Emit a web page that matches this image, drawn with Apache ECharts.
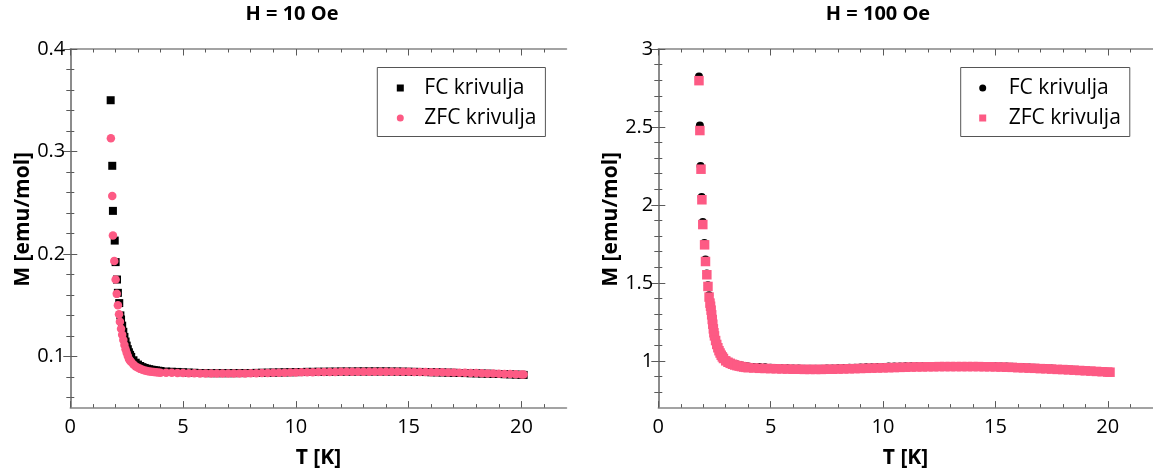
<!DOCTYPE html>
<html><head><meta charset="utf-8">
<script src="https://cdn.jsdelivr.net/npm/echarts@6/dist/echarts.min.js"></script>
<style>html,body{margin:0;padding:0;background:#fff}#c{width:1153px;height:474px}</style>
</head><body><div id="c"></div>
<script>
// ---------- tick labels ----------
const xMajorTicks = [0, 5, 10, 15, 20];
const xMinorTicks = [1,2,3,4,6,7,8,9,11,12,13,14,16,17,18,19,21];
const y10MajorTicks = [0.1, 0.2, 0.3, 0.4];
const y10MinorTicks = [0.06,0.08,0.12,0.14,0.16,0.18,0.22,0.24,0.26,0.28,0.32,0.34,0.36,0.38];
const y100MajorTicks = [1, 1.5, 2, 2.5, 3];
const y100MinorTicks = [0.8,0.9,1.1,1.2,1.3,1.4,1.6,1.7,1.8,1.9,2.1,2.2,2.3,2.4,2.6,2.7,2.8,2.9];
const titles = ['H = 10 Oe', 'H = 100 Oe'];
const seriesNames = ['FC krivulja', 'ZFC krivulja'];

// ---------- data: [T (K), M (emu/mol)] ----------
const fc10 = [
[1.79,0.350],[1.86,0.286],[1.89,0.242],[1.97,0.213],[2.01,0.192],[2.07,0.175],[2.11,0.162],[2.17,0.152],[2.22,0.140],
[2.25,0.136],[2.30,0.130],[2.35,0.124],[2.40,0.119],[2.45,0.1145],[2.50,0.1105],[2.55,0.1070],[2.60,0.1040],[2.65,0.1015],[2.70,0.0995],
[2.80,0.0962],[2.90,0.0938],[3.00,0.0920],[3.10,0.0906],[3.20,0.0895],[3.30,0.0887],[3.40,0.0880],[3.50,0.0875],[3.60,0.0870],[3.70,0.0866],
[3.80,0.0863],[3.90,0.0860],[4.00,0.0857],
[4.25,0.0852],[4.5,0.0850],[4.75,0.0848],[5,0.0845],[5.25,0.0842],[5.5,0.0840],[5.75,0.0838],[6,0.0837],[6.25,0.0836],[6.5,0.0836],
[6.75,0.0836],[7,0.0836],[7.25,0.0836],[7.5,0.0837],[7.75,0.0837],[8,0.0838],[8.25,0.0839],[8.5,0.0840],[8.75,0.0841],[9,0.0842],
[9.25,0.0843],[9.5,0.0844],[9.75,0.0845],[10,0.0846],[10.25,0.0847],[10.5,0.0849],[10.75,0.0849],[11,0.0850],[11.25,0.0850],[11.5,0.0851],
[11.75,0.0851],[12,0.0852],[12.25,0.0852],[12.5,0.0852],[12.75,0.0853],[13,0.0853],[13.25,0.0853],[13.5,0.0853],[13.75,0.0853],[14,0.0853],
[14.25,0.0852],[14.5,0.0852],[14.75,0.0851],[15,0.0850],[15.25,0.0849],[15.5,0.0848],[15.75,0.0847],[16,0.0845],[16.25,0.0844],[16.5,0.0843],
[16.75,0.0841],[17,0.0840],[17.25,0.0838],[17.5,0.0837],[17.75,0.0835],[18,0.0834],[18.25,0.0832],[18.5,0.0831],[18.75,0.0829],[19,0.0828],
[19.25,0.0826],[19.5,0.0824],[19.75,0.0822],[20,0.0820],[20.1,0.0819]
];
const zfc10 = [
[1.80,0.313],[1.86,0.2565],[1.89,0.218],[1.95,0.193],[2.01,0.175],[2.06,0.161],[2.11,0.150],[2.16,0.141],[2.20,0.1337],
[2.25,0.127],[2.30,0.121],[2.35,0.116],[2.40,0.111],[2.45,0.107],[2.50,0.1035],[2.55,0.1003],[2.60,0.0975],[2.65,0.0958],[2.70,0.0945],
[2.80,0.0920],[2.90,0.0902],[3.00,0.0888],[3.10,0.0878],[3.20,0.0870],[3.30,0.0863],[3.40,0.0858],[3.50,0.0853],[3.60,0.0850],[3.70,0.0847],
[3.80,0.0845],[3.90,0.0843],[4.00,0.0841],
[4.25,0.0840],[4.5,0.0839],[4.75,0.0838],[5,0.0837],[5.25,0.0836],[5.5,0.0835],[5.75,0.0834],[6,0.0834],[6.25,0.0833],[6.5,0.0833],
[6.75,0.0833],[7,0.0833],[7.25,0.0833],[7.5,0.0834],[7.75,0.0834],[8,0.0835],[8.25,0.0836],[8.5,0.0837],[8.75,0.0838],[9,0.0839],
[9.25,0.0840],[9.5,0.0841],[9.75,0.0842],[10,0.0843],[10.25,0.0844],[10.5,0.0845],[10.75,0.0846],[11,0.0847],[11.25,0.0847],[11.5,0.0848],
[11.75,0.0848],[12,0.0849],[12.25,0.0849],[12.5,0.0849],[12.75,0.0850],[13,0.0850],[13.25,0.0850],[13.5,0.0850],[13.75,0.0850],[14,0.0850],
[14.25,0.0850],[14.5,0.0850],[14.75,0.0849],[15,0.0849],[15.25,0.0848],[15.5,0.0848],[15.75,0.0847],[16,0.0846],[16.25,0.0845],[16.5,0.0844],
[16.75,0.0843],[17,0.0842],[17.25,0.0841],[17.5,0.0840],[17.75,0.0838],[18,0.0837],[18.25,0.0835],[18.5,0.0834],[18.75,0.0832],[19,0.0831],
[19.25,0.0829],[19.5,0.0827],[19.75,0.0825],[20,0.0823],[20.1,0.0822]
];
const fc100 = [
[1.81,2.823],[1.85,2.509],[1.88,2.250],[1.93,2.050],[1.98,1.890],[2.05,1.755],[2.10,1.650],[2.16,1.560],[2.21,1.485],[2.26,1.420],
[2.30,1.380],[2.325,1.358],[2.35,1.333],[2.375,1.303],[2.40,1.273],[2.425,1.243],[2.45,1.213],[2.475,1.188],[2.50,1.167],[2.55,1.137],
[2.60,1.112],[2.65,1.091],[2.70,1.072],[2.75,1.057],[2.80,1.043],[2.85,1.032],[2.90,1.022],[3.0,1.007],[3.1,0.998],[3.2,0.991],
[3.3,0.985],[3.4,0.980],[3.5,0.976],[3.6,0.973],[3.7,0.970],[3.8,0.967],[3.9,0.965],[4.0,0.963],
[4.25,0.961],[4.5,0.960],[4.75,0.958],[5,0.956],[5.25,0.954],[5.5,0.953],[5.75,0.952],[6,0.951],[6.25,0.950],[6.5,0.949],
[6.75,0.949],[7,0.949],[7.25,0.949],[7.5,0.950],[7.75,0.951],[8,0.952],[8.25,0.954],[8.5,0.955],[8.75,0.956],[9,0.957],
[9.25,0.958],[9.5,0.959],[9.75,0.960],[10,0.961],[10.25,0.963],[10.5,0.963],[10.75,0.964],[11,0.965],[11.25,0.966],[11.5,0.966],
[11.75,0.966],[12,0.967],[12.25,0.967],[12.5,0.967],[12.75,0.967],[13,0.967],[13.25,0.967],[13.5,0.967],[13.75,0.967],[14,0.967],
[14.25,0.967],[14.5,0.966],[14.75,0.966],[15,0.965],[15.25,0.964],[15.5,0.963],[15.75,0.962],[16,0.960],[16.25,0.958],[16.5,0.957],
[16.75,0.955],[17,0.953],[17.25,0.952],[17.5,0.950],[17.75,0.948],[18,0.946],[18.25,0.944],[18.5,0.942],[18.75,0.940],[19,0.938],
[19.25,0.936],[19.5,0.934],[19.75,0.932],[20,0.930],[20.1,0.929]
];
const zfc100 = [
[1.81,2.797],[1.85,2.477],[1.90,2.229],[1.94,2.033],[1.98,1.874],[2.06,1.744],[2.10,1.637],[2.16,1.552],[2.21,1.477],[2.26,1.409],
[2.30,1.370],[2.325,1.350],[2.35,1.325],[2.375,1.295],[2.40,1.265],[2.425,1.235],[2.45,1.205],[2.475,1.180],[2.50,1.160],[2.55,1.130],
[2.60,1.105],[2.65,1.084],[2.70,1.065],[2.75,1.050],[2.80,1.036],[2.85,1.025],[2.90,1.015],[3.0,1.000],[3.1,0.991],[3.2,0.984],
[3.3,0.978],[3.4,0.973],[3.5,0.969],[3.6,0.966],[3.7,0.963],[3.8,0.960],[3.9,0.958],[4.0,0.956],
[4.25,0.954],[4.5,0.952],[4.75,0.951],[5,0.950],[5.25,0.949],[5.5,0.948],[5.75,0.947],[6,0.946],[6.25,0.946],[6.5,0.945],
[6.75,0.945],[7,0.945],[7.25,0.945],[7.5,0.946],[7.75,0.946],[8,0.947],[8.25,0.948],[8.5,0.949],[8.75,0.950],[9,0.951],
[9.25,0.952],[9.5,0.953],[9.75,0.954],[10,0.955],[10.25,0.956],[10.5,0.957],[10.75,0.958],[11,0.959],[11.25,0.960],[11.5,0.961],
[11.75,0.961],[12,0.962],[12.25,0.962],[12.5,0.963],[12.75,0.963],[13,0.963],[13.25,0.963],[13.5,0.963],[13.75,0.963],[14,0.963],
[14.25,0.963],[14.5,0.962],[14.75,0.962],[15,0.961],[15.25,0.960],[15.5,0.959],[15.75,0.958],[16,0.956],[16.25,0.955],[16.5,0.953],
[16.75,0.952],[17,0.950],[17.25,0.949],[17.5,0.947],[17.75,0.945],[18,0.944],[18.25,0.942],[18.5,0.940],[18.75,0.938],[19,0.936],
[19.25,0.934],[19.5,0.932],[19.75,0.930],[20,0.928],[20.1,0.927]
];

// ---------- styling ----------
const PINK = '#fd5a84';
const FONT = 'Open Sans';
const LINE = '#858585';
const TICK = '#5a5a5a';

function xAxes(grid, name) {
  const base = {type: 'value', gridIndex: grid, min: 0, max: 22, splitLine: {show: false}};
  return [
    Object.assign({}, base, {position: 'bottom', name: name, nameLocation: 'middle', nameGap: 40,
      nameTextStyle: {fontFamily: FONT, fontWeight: 'bold', fontSize: 21, color: '#000'},
      axisLine: {show: true, lineStyle: {color: LINE, width: 1.5}},
      axisTick: {show: true, inside: true, length: 6.5, customValues: xMajorTicks, lineStyle: {color: TICK, width: 1}},
      axisLabel: {show: true, customValues: xMajorTicks, margin: 10, fontFamily: FONT, fontSize: 20, color: '#000'}}),
    Object.assign({}, base, {position: 'bottom',
      axisLine: {show: false},
      axisTick: {show: true, inside: true, length: 3.5, customValues: xMinorTicks, lineStyle: {color: TICK, width: 1}},
      axisLabel: {show: false}}),
    Object.assign({}, base, {position: 'top',
      axisLine: {show: true, lineStyle: {color: LINE, width: 1.5}},
      axisTick: {show: true, inside: true, length: 6.5, customValues: xMajorTicks, lineStyle: {color: TICK, width: 1}},
      axisLabel: {show: false}}),
    Object.assign({}, base, {position: 'top',
      axisLine: {show: false},
      axisTick: {show: true, inside: true, length: 3.5, customValues: xMinorTicks, lineStyle: {color: TICK, width: 1}},
      axisLabel: {show: false}})
  ];
}
function yAxes(grid, min, max, majors, minors, name) {
  const base = {type: 'value', gridIndex: grid, min: min, max: max, splitLine: {show: false}};
  return [
    Object.assign({}, base, {position: 'left', name: name, nameLocation: 'middle', nameGap: 37, nameRotate: 90,
      nameTextStyle: {fontFamily: FONT, fontWeight: 'bold', fontSize: 21, color: '#000', padding: [0, 0, 0, 18]},
      axisLine: {show: true, lineStyle: {color: LINE, width: 1.5}},
      axisTick: {show: true, inside: true, length: 7, customValues: majors, lineStyle: {color: TICK, width: 1}},
      axisLabel: {show: true, customValues: majors, margin: 5, fontFamily: FONT, fontSize: 20, color: '#000'}}),
    Object.assign({}, base, {position: 'left',
      axisLine: {show: false},
      axisTick: {show: true, inside: true, length: 4, customValues: minors, lineStyle: {color: TICK, width: 1}},
      axisLabel: {show: false}}),
    Object.assign({}, base, {position: 'right',
      axisLine: {show: true, lineStyle: {color: LINE, width: 1.5}},
      axisTick: {show: true, inside: true, length: 7, customValues: majors, lineStyle: {color: TICK, width: 1}},
      axisLabel: {show: false}}),
    Object.assign({}, base, {position: 'right',
      axisLine: {show: false},
      axisTick: {show: true, inside: true, length: 4, customValues: minors, lineStyle: {color: TICK, width: 1}},
      axisLabel: {show: false}})
  ];
}

// legend square icon: square centred in a wide box (tiny corner points keep the box size)
function squareIcon(w, s) {
  const a = (w - s) / 2;
  return 'path://M0,0L0.01,0Z M' + a + ',0h' + s + 'v' + s + 'h-' + s + 'Z M' + w + ',' + s + 'L' + (w - 0.01) + ',' + s + 'Z';
}
function legend(left, padLeft, itemW, icons) {
  return {
    orient: 'vertical', left: left, top: 67.5, padding: [10, 9, 8, padLeft],
    itemWidth: itemW, itemHeight: 7, itemGap: 9,
    borderColor: '#555', borderWidth: 1, backgroundColor: '#fff',
    itemStyle: {opacity: 1},
    textStyle: {fontFamily: FONT, fontSize: 21, color: '#000', lineHeight: 20},
    data: [{name: seriesNames[0], icon: icons[0]}, {name: seriesNames[1], icon: icons[1]}]
  };
}

const chart = echarts.init(document.getElementById('c'), null, {renderer: 'canvas'});
chart.setOption({
  animation: false,
  backgroundColor: '#fff',
  graphic: [
    {type: 'text', x: 292, y: 4, style: {text: titles[0], textAlign: 'center', fontFamily: FONT, fontWeight: 'bold', fontSize: 20, fill: '#000'}},
    {type: 'text', x: 878, y: 4, style: {text: titles[1], textAlign: 'center', fontFamily: FONT, fontWeight: 'bold', fontSize: 20, fill: '#000'}}
  ],
  grid: [
    {left: 70.3, top: 49, width: 496.2, height: 358.6, containLabel: false, outerBoundsMode: 'none'},
    {left: 658.3, top: 49, width: 494.4, height: 358.6, containLabel: false, outerBoundsMode: 'none'}
  ],
  xAxis: xAxes(0, 'T [K]').concat(xAxes(1, 'T [K]')),
  yAxis: yAxes(0, 0.05, 0.4, y10MajorTicks, y10MinorTicks, 'M [emu/mol]')
    .concat(yAxes(1, 0.7, 3, y100MajorTicks, y100MinorTicks, 'M [emu/mol]')),
  legend: [
    legend(377.3, 4, 38, [squareIcon(38, 7), 'circle']),
    legend(960.7, 1, 42, ['circle', squareIcon(42, 7)])
  ],
  series: [
    {type: 'scatter', name: seriesNames[0], xAxisIndex: 0, yAxisIndex: 0, data: fc10, symbol: 'rect', symbolSize: 8, itemStyle: {color: '#000', opacity: 1}},
    {type: 'scatter', name: seriesNames[1], xAxisIndex: 0, yAxisIndex: 0, data: zfc10, symbol: 'circle', symbolSize: 8.5, itemStyle: {color: PINK, opacity: 1}},
    {type: 'scatter', name: seriesNames[0], xAxisIndex: 4, yAxisIndex: 4, data: fc100, symbol: 'circle', symbolSize: 8, itemStyle: {color: '#000', opacity: 1}},
    {type: 'scatter', name: seriesNames[1], xAxisIndex: 4, yAxisIndex: 4, data: zfc100, symbol: 'rect', symbolSize: 9.5, itemStyle: {color: PINK, opacity: 1}}
  ]
});
</script>
</body></html>
